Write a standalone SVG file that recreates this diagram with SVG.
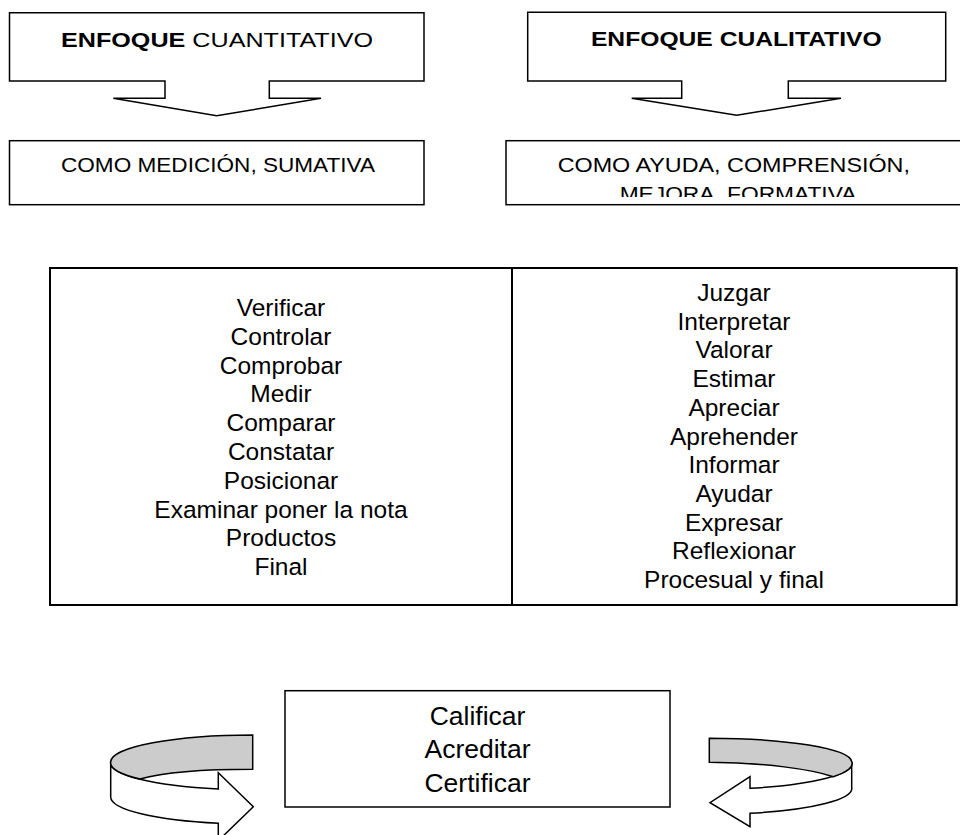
<svg xmlns="http://www.w3.org/2000/svg" width="960" height="835" viewBox="0 0 960 835">
<style>
  .box { fill: #ffffff; stroke: #000000; stroke-width: 1.5; stroke-linejoin: miter; }
  .tbl { fill: none; stroke: #000000; stroke-width: 2; }
  .t { font-family: "Liberation Sans", Arial, sans-serif; fill: #000000; text-anchor: middle; }
  .h { font-size: 21px; }
  .s { font-size: 21px; }
  .l { font-size: 24.5px; }
  .c { font-size: 26.5px; }
  .b { font-weight: bold; }
  .gray { fill: #cccccc; stroke: #000000; stroke-width: 1.5; stroke-linejoin: miter; }
  .white { fill: #ffffff; stroke: #000000; stroke-width: 1.5; stroke-linejoin: miter; }
</style>
<defs>
  <clipPath id="clipR">
    <rect x="507" y="142" width="453" height="55"/>
  </clipPath>
</defs>
<rect width="960" height="835" fill="#ffffff"/>

<g id="enfoque-cuantitativo">
  <path class="box" d="M9.5,12.7 H424 V81 H269.3 V98.3 H321 L216.7,115.7 L113.3,98.3 H165 V81 H9.5 Z"/>
  <text class="t h" x="217" y="46.7" textLength="312" lengthAdjust="spacingAndGlyphs"><tspan class="b">ENFOQUE</tspan> CUANTITATIVO</text>
</g>

<g id="enfoque-cualitativo">
  <path class="box" d="M527.7,12.3 H945.7 V81 H788.3 V98.3 H841 L736.7,115.3 L631.7,98.3 H681.7 V81 H527.7 Z"/>
  <text class="t h b" x="736.3" y="45.7" textLength="290.7" lengthAdjust="spacingAndGlyphs">ENFOQUE CUALITATIVO</text>
</g>

<g id="como-medicion">
  <rect class="box" x="9.5" y="140.7" width="414.5" height="64"/>
  <text class="t s" x="218" y="171.7" textLength="314" lengthAdjust="spacingAndGlyphs">COMO MEDICIÓN, SUMATIVA</text>
</g>

<g id="como-ayuda">
  <rect class="box" x="506" y="140.7" width="458" height="64"/>
  <g clip-path="url(#clipR)">
    <text class="t s" x="733.8" y="171.7" textLength="352.3" lengthAdjust="spacingAndGlyphs">COMO AYUDA, COMPRENSIÓN,</text>
    <text class="t s" x="738" y="200.5" textLength="236.7" lengthAdjust="spacingAndGlyphs">MEJORA, FORMATIVA</text>
  </g>
</g>

<g id="tabla">
  <rect class="tbl" x="50" y="268" width="906.7" height="337"/>
  <line class="tbl" x1="512" y1="268" x2="512" y2="605"/>
  <g id="col-cuantitativo">
    <text class="t l" x="281" y="316">Verificar</text>
    <text class="t l" x="281" y="344.8">Controlar</text>
    <text class="t l" x="281" y="373.6">Comprobar</text>
    <text class="t l" x="281" y="402.4">Medir</text>
    <text class="t l" x="281" y="431.2">Comparar</text>
    <text class="t l" x="281" y="460">Constatar</text>
    <text class="t l" x="281" y="488.8">Posicionar</text>
    <text class="t l" x="281" y="517.6">Examinar poner la nota</text>
    <text class="t l" x="281" y="546.4">Productos</text>
    <text class="t l" x="281" y="575.2">Final</text>
  </g>
  <g id="col-cualitativo">
    <text class="t l" x="734" y="301">Juzgar</text>
    <text class="t l" x="734" y="329.7">Interpretar</text>
    <text class="t l" x="734" y="358.4">Valorar</text>
    <text class="t l" x="734" y="387.1">Estimar</text>
    <text class="t l" x="734" y="415.8">Apreciar</text>
    <text class="t l" x="734" y="444.5">Aprehender</text>
    <text class="t l" x="734" y="473.2">Informar</text>
    <text class="t l" x="734" y="501.9">Ayudar</text>
    <text class="t l" x="734" y="530.6">Expresar</text>
    <text class="t l" x="734" y="559.3">Reflexionar</text>
    <text class="t l" x="734" y="588">Procesual y final</text>
  </g>
</g>

<g id="calificar">
  <rect class="box" x="285" y="690.7" width="385" height="116.3"/>
  <text class="t c" x="477.5" y="725">Calificar</text>
  <text class="t c" x="477.5" y="758.3">Acreditar</text>
  <text class="t c" x="477.5" y="791.6">Certificar</text>
</g>

<g id="connectors">
  <g id="flecha-izquierda">
    <path class="white" d="M110.7,761.7 A142,27 0 0 0 218.3,789 L218.3,772.7 L253.3,806.7 L218.3,840.7 L218.3,823.3 A142,27 0 0 1 110.7,797.3 Z"/>
    <path class="gray" d="M252.7,735 A142,27 0 0 0 110.7,761.7 A142,27 0 0 0 140,779 C165,772 205,769.3 252.7,769.3 Z"/>
  </g>
  <g id="flecha-derecha">
    <path class="white" d="M851.7,761.7 A142,26 0 0 1 750,788.3 L750,776.7 L710,802.7 L750,826.7 L750,813.3 A142,26 0 0 0 851.7,787.3 Z"/>
    <path class="gray" d="M709.3,738.3 A142,24 0 0 1 851.7,761.7 A142,26 0 0 1 833.3,776.7 C812,769.5 765,762.5 709.3,762.3 Z"/>
  </g>
</g>
</svg>
